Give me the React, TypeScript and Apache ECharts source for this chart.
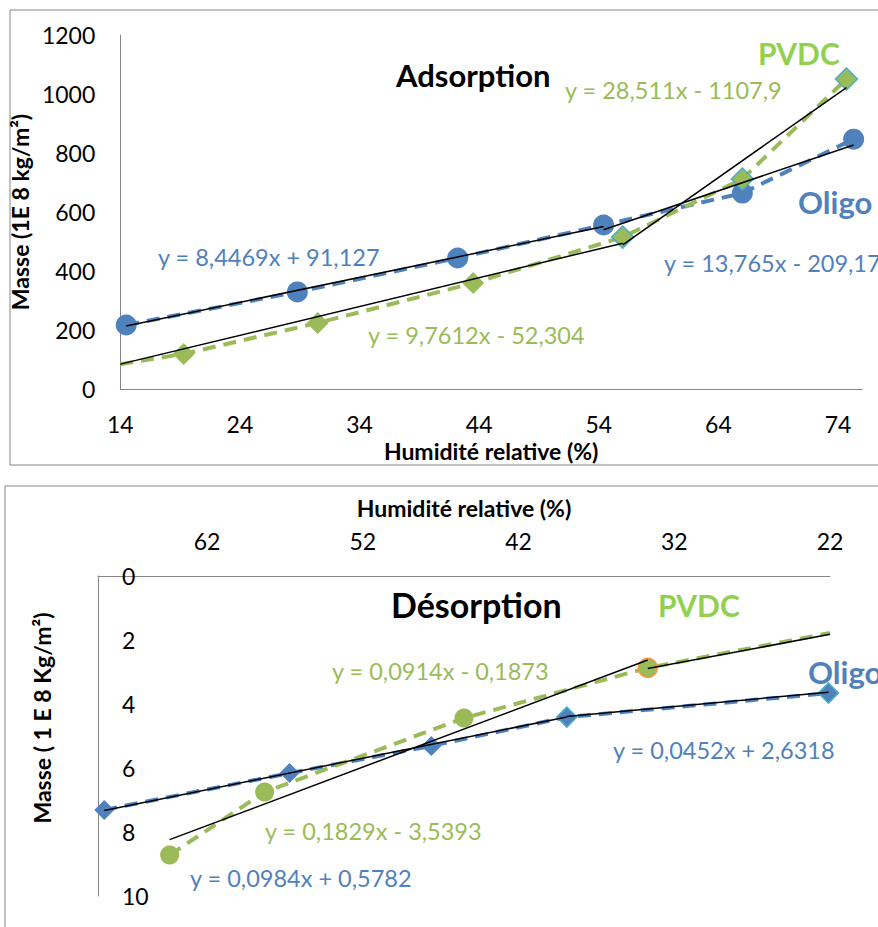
import React, { useEffect, useRef } from "react";
import * as echarts from "echarts";

// ---------- Data ----------
// Adsorption (top chart)
const ADS_X_TICKS = [14, 24, 34, 44, 54, 64, 74];
const OLIGO_ADS_X = [14.5, 28.8, 42.2, 54.4, 66.0, 75.3];
const OLIGO_ADS_Y = [217, 329, 444, 556, 664, 847];
const PVDC_ADS_X = [14, 19.3, 30.5, 43.5, 56.0, 66.0, 74.7];
const PVDC_ADS_Y = [84, 119, 224, 359, 515, 712, 1051];
const ADS_TREND_A = [8.4469, 13.765, 9.7612, 28.511];
const ADS_TREND_B = [91.127, -209.17, -52.304, -1107.9];
const ADS_TREND_FROM = [14.5, 54.4, 14, 56.0];
const ADS_TREND_TO = [54.4, 75.3, 56.0, 74.7];
const ADS_EQ_LABELS = [
  "y = 8,4469x + 91,127",
  "y = 13,765x - 209,17",
  "y = 9,7612x - 52,304",
  "y = 28,511x - 1107,9",
];

// Désorption (bottom chart)
const DES_X_TICKS = [22, 32, 42, 52, 62];
const OLIGO_DES_X = [68.6, 56.7, 47.6, 38.9, 22.1];
const OLIGO_DES_Y = [7.31, 6.16, 5.31, 4.41, 3.66];
const PVDC_DES_X = [64.4, 58.3, 45.5, 33.7, 22];
const PVDC_DES_Y = [8.72, 6.75, 4.44, 2.87, 1.78];
const DES_TREND_A = [0.0984, 0.0452, 0.1829, 0.0914];
const DES_TREND_B = [0.5782, 2.6318, -3.5393, -0.1873];
const DES_TREND_FROM = [68.6, 38.9, 64.4, 33.7];
const DES_TREND_TO = [38.9, 22.1, 33.7, 22];
const DES_EQ_LABELS = [
  "y = 0,0984x + 0,5782",
  "y = 0,0452x + 2,6318",
  "y = 0,1829x - 3,5393",
  "y = 0,0914x - 0,1873",
];

// ---------- Styles ----------
const BLUE = "#4F81BD";
const GREEN = "#9BBB59";
const LABEL_GREEN = "#92D050";
const TEAL = "#4BACC6";
const ORANGE = "#F79646";
const GREY = "#868686";
const FONT = "Lato, 'Open Sans', sans-serif";

// label positions: [left x, center y]
const ADS_EQ_POS = [
  [158, 259],
  [664, 265],
  [368, 337],
  [565, 92],
];
const DES_EQ_POS = [
  [190, 880],
  [613, 752],
  [265, 833],
  [332, 673],
];
const EQ_COLORS = [BLUE, BLUE, GREEN, GREEN];

function trendData(a: number, b: number, x0: number, x1: number) {
  return [
    [x0, a * x0 + b],
    [x1, a * x1 + b],
  ];
}

export default function App() {
  const ref = useRef<HTMLDivElement>(null);
  useEffect(() => {
    if (!ref.current) return;
    const chart = echarts.init(ref.current, null, { renderer: "svg" });

    const axisLine = { show: true, lineStyle: { color: GREY, width: 1 } };
    const tickFont = {
      color: "#000",
      fontFamily: FONT,
      fontSize: 23,
      formatter: (v: number) => String(v),
    };
    const nameFont = { color: "#000", fontFamily: FONT, fontSize: 23, fontWeight: "bold" as const };
    const dashed = (color: string) => ({ color, width: 4, type: [13, 8] as number[] });

    const series: any[] = [];

    // Top: Oligo points
    series.push({
      name: "Oligo adsorption",
      type: "line",
      xAxisIndex: 0,
      yAxisIndex: 0,
      data: OLIGO_ADS_X.map((x, i) => [x, OLIGO_ADS_Y[i]]),
      symbol: "circle",
      symbolSize: 21,
      itemStyle: { color: BLUE },
      lineStyle: dashed(BLUE),
      z: 3,
    });
    // Top: PVDC points
    series.push({
      name: "PVDC adsorption",
      type: "line",
      xAxisIndex: 0,
      yAxisIndex: 0,
      data: PVDC_ADS_X.map((x, i) => {
        const item: any = { value: [x, PVDC_ADS_Y[i]] };
        if (i === 0) item.symbol = "none";
        if (i >= 4) item.itemStyle = { color: GREEN, borderColor: TEAL, borderWidth: 1.5 };
        return item;
      }),
      symbol: "diamond",
      symbolSize: 22,
      itemStyle: { color: GREEN },
      lineStyle: dashed(GREEN),
      z: 3,
    });
    ADS_TREND_A.forEach((a, i) => {
      series.push({
        name: "Tendance " + ADS_EQ_LABELS[i],
        type: "line",
        xAxisIndex: 0,
        yAxisIndex: 0,
        data: trendData(a, ADS_TREND_B[i], ADS_TREND_FROM[i], ADS_TREND_TO[i]),
        symbol: "none",
        lineStyle: { color: "#000", width: 1.5 },
        z: 4,
      });
    });

    // Bottom: Oligo
    series.push({
      name: "Oligo désorption",
      type: "line",
      xAxisIndex: 1,
      yAxisIndex: 1,
      data: OLIGO_DES_X.map((x, i) => {
        const item: any = { value: [x, OLIGO_DES_Y[i]] };
        if (i >= 3) item.itemStyle = { color: BLUE, borderColor: TEAL, borderWidth: 1.5 };
        return item;
      }),
      symbol: "diamond",
      symbolSize: 20,
      itemStyle: { color: BLUE },
      lineStyle: dashed(BLUE),
      z: 3,
    });
    // Bottom: PVDC
    series.push({
      name: "PVDC désorption",
      type: "line",
      xAxisIndex: 1,
      yAxisIndex: 1,
      data: PVDC_DES_X.map((x, i) => {
        const item: any = { value: [x, PVDC_DES_Y[i]] };
        if (i === 3) item.itemStyle = { color: GREEN, borderColor: ORANGE, borderWidth: 1.5 };
        if (i === PVDC_DES_X.length - 1) item.symbol = "none";
        return item;
      }),
      symbol: "circle",
      symbolSize: 19,
      itemStyle: { color: GREEN },
      lineStyle: dashed(GREEN),
      z: 3,
    });
    DES_TREND_A.forEach((a, i) => {
      series.push({
        name: "Tendance " + DES_EQ_LABELS[i],
        type: "line",
        xAxisIndex: 1,
        yAxisIndex: 1,
        data: trendData(a, DES_TREND_B[i], DES_TREND_FROM[i], DES_TREND_TO[i]),
        symbol: "none",
        lineStyle: { color: "#000", width: 1.5 },
        z: 4,
      });
    });

    const eqText = (label: string, pos: number[], color: string) => ({
      type: "text",
      left: pos[0],
      top: pos[1] - 14,
      style: { text: label, fill: color, font: `23.5px ${FONT}` },
      z: 10,
    });
    const boldText = (label: string, x: number, y: number, color: string, size: number) => ({
      type: "text",
      left: x,
      top: y - size * 0.6,
      style: { text: label, fill: color, font: `bold ${size}px ${FONT}` },
      z: 10,
    });

    const graphic: any[] = [
      {
        type: "rect",
        shape: { x: 10, y: 10, width: 900, height: 455 },
        style: { fill: "none", stroke: GREY, lineWidth: 1 },
        z: -1,
      },
      {
        type: "rect",
        shape: { x: 5, y: 486, width: 900, height: 500 },
        style: { fill: "none", stroke: GREY, lineWidth: 1 },
        z: -1,
      },
      ...ADS_EQ_LABELS.map((l, i) => eqText(l, ADS_EQ_POS[i], EQ_COLORS[i])),
      ...DES_EQ_LABELS.map((l, i) => eqText(l, DES_EQ_POS[i], EQ_COLORS[i])),
      boldText("PVDC", 758, 56, LABEL_GREEN, 30),
      boldText("Oligo", 798, 205, BLUE, 31),
      boldText("PVDC", 658, 608, LABEL_GREEN, 30),
      boldText("Oligo", 808, 675, BLUE, 31),
    ];

    const option: any = {
      animation: false,
      backgroundColor: "#fff",
      title: [
        {
          text: "Adsorption",
          left: 391,
          top: 54,
          textStyle: { fontFamily: FONT, fontSize: 31, fontWeight: "bold", color: "#000" },
        },
        {
          text: "Désorption",
          left: 386,
          top: 582,
          textStyle: { fontFamily: FONT, fontSize: 34, fontWeight: "bold", color: "#000" },
        },
      ],
      grid: [
        { left: 119, top: 35, width: 743, height: 354, containLabel: false },
        { left: 98, top: 576, width: 732, height: 320, containLabel: false },
      ],
      xAxis: [
        {
          type: "value",
          gridIndex: 0,
          min: 14,
          max: 76,
          axisLine,
          axisTick: { show: false },
          splitLine: { show: false },
          axisLabel: { ...tickFont, margin: 23, customValues: ADS_X_TICKS },
          name: "Humidité relative (%)",
          nameLocation: "middle",
          nameGap: 50,
          nameTextStyle: nameFont,
        },
        {
          type: "value",
          gridIndex: 1,
          position: "top",
          inverse: true,
          min: 22,
          max: 69,
          axisLine,
          axisTick: { show: false },
          splitLine: { show: false },
          axisLabel: { ...tickFont, margin: 24, customValues: DES_X_TICKS },
          name: "Humidité relative (%)",
          nameLocation: "middle",
          nameGap: 57,
          nameTextStyle: nameFont,
        },
      ],
      yAxis: [
        {
          type: "value",
          gridIndex: 0,
          min: 0,
          max: 1200,
          interval: 200,
          axisLine,
          axisTick: { show: false },
          splitLine: { show: false },
          axisLabel: { ...tickFont, margin: 25 },
          name: "Masse (1E 8 kg/m²)",
          nameLocation: "middle",
          nameGap: 76,
          nameTextStyle: nameFont,
        },
        {
          type: "value",
          gridIndex: 1,
          inverse: true,
          min: 0,
          max: 10,
          interval: 2,
          axisLine,
          axisTick: { show: false },
          splitLine: { show: false },
          axisLabel: { ...tickFont, inside: true, margin: 24 },
          name: "Masse ( 1 E 8 Kg/m²)",
          nameLocation: "middle",
          nameGap: 45,
          nameTextStyle: { ...nameFont, padding: [0, 0, 0, 36] },
        },
      ],
      series,
      graphic,
    };
    chart.setOption(option);
    return () => chart.dispose();
  }, []);

  return (
    <div
      ref={ref}
      style={{ position: "absolute", left: 0, top: 0, width: 878, height: 927 }}
    />
  );
}
